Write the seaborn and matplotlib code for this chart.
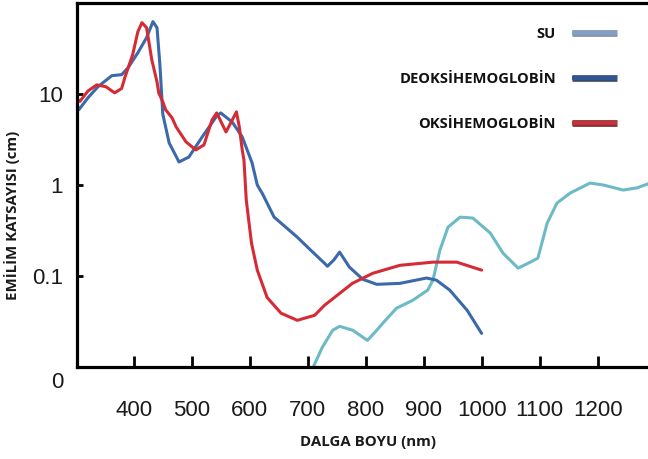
import numpy as np
import pandas as pd
import matplotlib
matplotlib.use("Agg")
import matplotlib.pyplot as plt
import matplotlib.patheffects as pe
import matplotlib.transforms as mtransforms
from matplotlib.lines import Line2D
from matplotlib import font_manager
import seaborn as sns

# ---- data ----
oxy_nm = [302, 307, 321, 336, 352, 367, 379, 385, 398, 407, 414, 422, 431, 440, 443, 450,
          455, 466, 473, 490, 507, 521, 535, 543, 559, 570, 577, 582, 587, 590, 594, 603,
          613, 630, 654, 682, 712, 729, 746, 777, 812, 859, 916, 957, 1000]
oxy_val = [8.8, 8.3, 10.8, 12.6, 12.0, 10.3, 11.5, 15.5, 27.0, 48.4, 60.8, 53.6, 23.8, 13.6,
           10.3, 8.2, 6.7, 5.47, 4.35, 2.98, 2.43, 2.76, 5.2, 6.2, 3.83, 5.2, 6.37, 4.35, 2.43,
           1.88, 0.684, 0.23, 0.116, 0.058, 0.039, 0.0326, 0.037, 0.0477, 0.058, 0.083, 0.107,
           0.131, 0.142, 0.142, 0.116]

deoxy_nm = [302, 305, 321, 338, 362, 379, 390, 407, 422, 433, 440, 445, 450, 461, 478, 495,
            518, 542, 550, 570, 587, 604, 613, 622, 642, 682, 706, 729, 734, 745, 755, 772,
            795, 819, 859, 905, 922, 945, 975, 1000]
deoxy_val = [7.6, 6.7, 9.1, 12.0, 15.9, 16.3, 19.4, 28.4, 41.6, 62.4, 53.6, 21.0, 6.0, 2.9,
             1.79, 2.03, 3.38, 5.6, 6.2, 4.9, 3.38, 1.75, 1.0, 0.8, 0.444, 0.267, 0.19, 0.138,
             0.128, 0.150, 0.183, 0.125, 0.092, 0.081, 0.083, 0.095, 0.090, 0.070, 0.042, 0.0234]

water_nm = [708, 725, 743, 755, 778, 803, 819, 829, 853, 881, 907, 916, 928, 942, 963, 985,
            1015, 1037, 1063, 1084, 1097, 1113, 1130, 1153, 1187, 1210, 1244, 1268, 1287]
water_val = [0.0095, 0.0164, 0.0253, 0.028, 0.0253, 0.0196, 0.0253, 0.030, 0.0442, 0.054,
             0.070, 0.090, 0.192, 0.344, 0.444, 0.433, 0.296, 0.178, 0.122, 0.142, 0.157,
             0.38, 0.634, 0.817, 1.05, 1.0, 0.88, 0.93, 1.03]

series_names = ["SU", "DEOKSİHEMOGLOBİN", "OKSİHEMOGLOBİN"]
line_colors = ["#6cbac6", "#3b69aa", "#d52b35"]
legend_colors = ["#7fa0c8", "#2f5592", "#c4323c"]
legend_edges = ["#8a8f99", "#3d4a66", "#7a2a2f"]

x_ticks = [400, 500, 600, 700, 800, 900, 1000, 1100, 1200]
y_ticks = [0.01, 0.1, 1, 10]
y_tick_labels = ["0", "0.1", "1", "10"]

df = pd.concat([
    pd.DataFrame({"nm": water_nm, "val": water_val, "series": series_names[0]}),
    pd.DataFrame({"nm": deoxy_nm, "val": deoxy_val, "series": series_names[1]}),
    pd.DataFrame({"nm": oxy_nm, "val": oxy_val, "series": series_names[2]}),
], ignore_index=True)

# ---- style ----
sns.set_theme(style="white")
names = {f.name for f in font_manager.fontManager.ttflist}
tick_family = "Liberation Sans Narrow" if "Liberation Sans Narrow" in names else "Liberation Sans"
tick_size = 19 if tick_family == "Liberation Sans Narrow" else 16
bold_family = ["Open Sans", "DejaVu Sans"]
plt.rcParams["font.family"] = [tick_family, "DejaVu Sans"]

fig = plt.figure(figsize=(6.48, 4.59), dpi=100)
ax = fig.add_axes([77 / 648, 1 - 367 / 459, 571 / 648, 364 / 459])

sns.lineplot(data=df, x="nm", y="val", hue="series", hue_order=series_names,
             palette=dict(zip(series_names, line_colors)), estimator=None,
             linewidth=2.2, legend=False, ax=ax,
             solid_joinstyle="round", solid_capstyle="round")

ax.set_yscale("log")
ax.set_ylim(0.01, 100)
ax.set_xlim(302, 1287)
ax.set_xticks(x_ticks)
ax.set_xticklabels([str(t) for t in x_ticks])
ax.set_yticks(y_ticks)
ax.set_yticklabels(y_tick_labels)
ax.yaxis.set_minor_locator(matplotlib.ticker.NullLocator())

for side in ["left", "top", "bottom"]:
    ax.spines[side].set_visible(True)
    ax.spines[side].set_color("black")
    ax.spines[side].set_linewidth(2.3)
ax.spines["right"].set_visible(False)

ax.tick_params(axis="x", direction="in", length=8, width=2, color="black",
               pad=24, labelsize=tick_size, labelcolor="#1a1a1a", bottom=True)
ax.tick_params(axis="y", direction="in", length=4, width=2, color="black",
               pad=10, labelsize=tick_size, labelcolor="#1a1a1a", left=True)

# move the "0" label slightly below the axis line
for lab in ax.get_yticklabels():
    if lab.get_text() == "0":
        lab.set_transform(lab.get_transform() +
                          mtransforms.ScaledTranslation(0, -13 / 100, fig.dpi_scale_trans))

ax.set_xlabel("DALGA BOYU (nm)", fontsize=10.8, fontweight="bold", family=bold_family,
              color="#1a1a1a")
ax.xaxis.set_label_coords((368 - 77) / 571, -0.187)
ax.set_ylabel("EMİLİM KATSAYISI (cm)", fontsize=10.8, fontweight="bold", family=bold_family,
              color="#1a1a1a")
ax.yaxis.set_label_coords(-(77 - 20) / 571, (367 - 215) / 364)

handles = []
for c, e in zip(legend_colors, legend_edges):
    h = Line2D([0], [0], color=c, linewidth=3.2, solid_capstyle="butt",
               path_effects=[pe.Stroke(linewidth=4.8, foreground=e), pe.Normal()])
    handles.append(h)
leg = ax.legend(handles, series_names, loc="upper right", bbox_to_anchor=(0.946, 0.933),
                markerfirst=False, frameon=False, handlelength=3.1, handletextpad=1.05,
                labelspacing=2.1, borderaxespad=0, borderpad=0,
                prop={"family": bold_family, "weight": "bold", "size": 10.6})
for t in leg.get_texts():
    t.set_color("#111111")

fig.savefig("out.png", dpi=100, facecolor="white")
